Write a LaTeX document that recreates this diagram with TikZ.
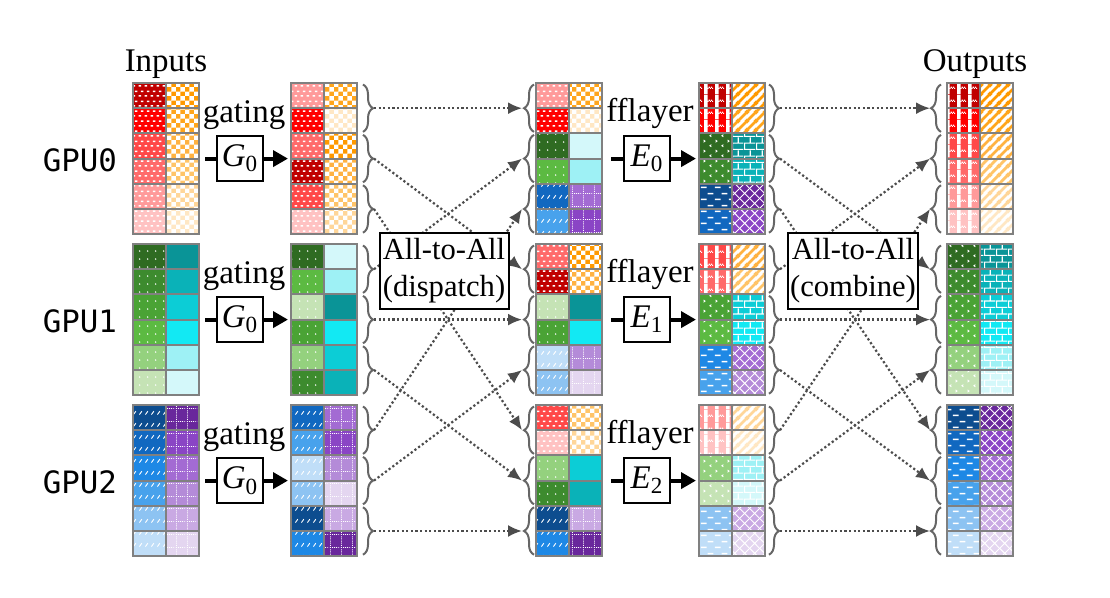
\documentclass[tikz,border=0pt]{standalone}
\usepackage{fontspec}
\setmainfont{Liberation Serif}
\setmonofont{DejaVu Sans Mono}
\usetikzlibrary{patterns,arrows.meta,decorations.pathreplacing}

% colour levels, darkest = 0
\definecolor{rd0}{HTML}{C00000}\definecolor{rd1}{HTML}{FF0000}\definecolor{rd2}{HTML}{FF4848}
\definecolor{rd3}{HTML}{FF6A6A}\definecolor{rd4}{HTML}{FF9A9A}\definecolor{rd5}{HTML}{FFC2C2}
\definecolor{or0}{HTML}{FF9900}\definecolor{or1}{HTML}{FFA51C}\definecolor{or2}{HTML}{FFB241}
\definecolor{or3}{HTML}{FFC468}\definecolor{or4}{HTML}{FFD699}\definecolor{or5}{HTML}{FFE7C4}
\definecolor{gr0}{HTML}{2F6B22}\definecolor{gr1}{HTML}{3D8B2E}\definecolor{gr2}{HTML}{4AA335}
\definecolor{gr3}{HTML}{5CBA42}\definecolor{gr4}{HTML}{94D17E}\definecolor{gr5}{HTML}{C5E3B5}
\definecolor{cy0}{HTML}{0A9497}\definecolor{cy1}{HTML}{0AB2B8}\definecolor{cy2}{HTML}{0CCDD6}
\definecolor{cy3}{HTML}{12E9F3}\definecolor{cy4}{HTML}{9EF1F5}\definecolor{cy5}{HTML}{D4F8FA}
\definecolor{bl0}{HTML}{0D4D8F}\definecolor{bl1}{HTML}{1168C0}\definecolor{bl2}{HTML}{1E88E5}
\definecolor{bl3}{HTML}{48A2EC}\definecolor{bl4}{HTML}{8DC3F2}\definecolor{bl5}{HTML}{C0DEF8}
\definecolor{pu0}{HTML}{69279C}\definecolor{pu1}{HTML}{8A45C5}\definecolor{pu2}{HTML}{A36BD3}
\definecolor{pu3}{HTML}{B48BD8}\definecolor{pu4}{HTML}{C9A9E3}\definecolor{pu5}{HTML}{E4D6F0}

% token textures
\pgfdeclarepatternformonly{rdash}{\pgfqpoint{0pt}{0pt}}{\pgfqpoint{3pt}{5pt}}{\pgfqpoint{3pt}{5pt}}{%
  \pgfpathrectangle{\pgfqpoint{0.3pt}{0.7pt}}{\pgfqpoint{1.5pt}{0.8pt}}%
  \pgfpathrectangle{\pgfqpoint{1.7pt}{3.2pt}}{\pgfqpoint{1.3pt}{0.8pt}}%
  \pgfusepath{fill}}
\pgfdeclarepatternformonly{chk}{\pgfqpoint{0pt}{0pt}}{\pgfqpoint{4.4pt}{4.4pt}}{\pgfqpoint{4.4pt}{4.4pt}}{%
  \pgfpathrectangle{\pgfqpoint{0pt}{0pt}}{\pgfqpoint{2.2pt}{2.2pt}}%
  \pgfpathrectangle{\pgfqpoint{2.2pt}{2.2pt}}{\pgfqpoint{2.2pt}{2.2pt}}%
  \pgfusepath{fill}}
\pgfdeclarepatternformonly{sdots}{\pgfqpoint{0pt}{0pt}}{\pgfqpoint{4pt}{4.2pt}}{\pgfqpoint{4pt}{4.2pt}}{%
  \pgfpathcircle{\pgfqpoint{2pt}{2.1pt}}{0.45pt}\pgfusepath{fill}}
\pgfdeclarepatternformonly{slash}{\pgfqpoint{0pt}{0pt}}{\pgfqpoint{3pt}{6pt}}{\pgfqpoint{3pt}{6pt}}{%
  \pgfsetlinewidth{0.5pt}%
  \pgfpathmoveto{\pgfqpoint{0.8pt}{1.8pt}}\pgfpathlineto{\pgfqpoint{2.2pt}{3.6pt}}%
  \pgfusepath{stroke}}
\pgfdeclarepatternformonly{dgrid}{\pgfqpoint{0pt}{0pt}}{\pgfqpoint{5.5pt}{6.3pt}}{\pgfqpoint{5.5pt}{6.3pt}}{%
  \pgfsetlinewidth{0.5pt}\pgfsetdash{{0.5pt}{0.6pt}}{0pt}%
  \pgfpathmoveto{\pgfqpoint{0.25pt}{0pt}}\pgfpathlineto{\pgfqpoint{0.25pt}{6.3pt}}%
  \pgfpathmoveto{\pgfqpoint{0pt}{0.25pt}}\pgfpathlineto{\pgfqpoint{5.5pt}{0.25pt}}%
  \pgfusepath{stroke}}
\pgfdeclarepatternformonly{ging}{\pgfqpoint{0pt}{0pt}}{\pgfqpoint{5.5pt}{6.3pt}}{\pgfqpoint{5.5pt}{6.3pt}}{%
  \pgfpathrectangle{\pgfqpoint{0pt}{0pt}}{\pgfqpoint{1.9pt}{6.3pt}}%
  \pgfpathrectangle{\pgfqpoint{1.9pt}{2.6pt}}{\pgfqpoint{0.6pt}{0.6pt}}%
  \pgfpathrectangle{\pgfqpoint{3.1pt}{2.6pt}}{\pgfqpoint{0.6pt}{0.6pt}}%
  \pgfpathrectangle{\pgfqpoint{4.3pt}{2.6pt}}{\pgfqpoint{0.6pt}{0.6pt}}%
  \pgfpathrectangle{\pgfqpoint{2.5pt}{3.2pt}}{\pgfqpoint{0.6pt}{0.6pt}}%
  \pgfpathrectangle{\pgfqpoint{3.7pt}{3.2pt}}{\pgfqpoint{0.6pt}{0.6pt}}%
  \pgfusepath{fill}}
\pgfdeclarepatternformonly{stripe}{\pgfqpoint{0pt}{0pt}}{\pgfqpoint{4.5pt}{4.5pt}}{\pgfqpoint{4.5pt}{4.5pt}}{%
  \pgfsetlinewidth{1.5pt}%
  \pgfpathmoveto{\pgfqpoint{-1pt}{-1pt}}\pgfpathlineto{\pgfqpoint{5.5pt}{5.5pt}}%
  \pgfpathmoveto{\pgfqpoint{-1pt}{3.5pt}}\pgfpathlineto{\pgfqpoint{1pt}{5.5pt}}%
  \pgfpathmoveto{\pgfqpoint{3.5pt}{-1pt}}\pgfpathlineto{\pgfqpoint{5.5pt}{1pt}}%
  \pgfusepath{stroke}}
\pgfdeclarepatternformonly{chev}{\pgfqpoint{0pt}{0pt}}{\pgfqpoint{6pt}{5pt}}{\pgfqpoint{6pt}{5pt}}{%
  \pgfsetlinewidth{0.45pt}%
  \pgfpathmoveto{\pgfqpoint{1.8pt}{0.6pt}}\pgfpathlineto{\pgfqpoint{1pt}{1.2pt}}\pgfpathlineto{\pgfqpoint{1.8pt}{1.8pt}}%
  \pgfpathmoveto{\pgfqpoint{4pt}{3.1pt}}\pgfpathlineto{\pgfqpoint{4.8pt}{3.7pt}}\pgfpathlineto{\pgfqpoint{4pt}{4.3pt}}%
  \pgfusepath{stroke}}
\pgfdeclarepatternformonly{brick}{\pgfqpoint{0pt}{0pt}}{\pgfqpoint{6pt}{6.6pt}}{\pgfqpoint{6pt}{6.6pt}}{%
  \pgfsetlinewidth{0.6pt}%
  \pgfpathmoveto{\pgfqpoint{0pt}{0.3pt}}\pgfpathlineto{\pgfqpoint{6pt}{0.3pt}}%
  \pgfpathmoveto{\pgfqpoint{0pt}{3.6pt}}\pgfpathlineto{\pgfqpoint{6pt}{3.6pt}}%
  \pgfpathmoveto{\pgfqpoint{0.3pt}{0.3pt}}\pgfpathlineto{\pgfqpoint{0.3pt}{3.6pt}}%
  \pgfpathmoveto{\pgfqpoint{3.3pt}{3.6pt}}\pgfpathlineto{\pgfqpoint{3.3pt}{6.6pt}}%
  \pgfusepath{stroke}}
\pgfdeclarepatternformonly{hdash}{\pgfqpoint{0pt}{0pt}}{\pgfqpoint{7pt}{6pt}}{\pgfqpoint{7pt}{6pt}}{%
  \pgfpathrectangle{\pgfqpoint{0.5pt}{1pt}}{\pgfqpoint{3pt}{0.8pt}}%
  \pgfpathrectangle{\pgfqpoint{4pt}{4pt}}{\pgfqpoint{3pt}{0.8pt}}%
  \pgfusepath{fill}}
\pgfdeclarepatternformonly{diam}{\pgfqpoint{0pt}{0pt}}{\pgfqpoint{5pt}{5pt}}{\pgfqpoint{5pt}{5pt}}{%
  \pgfsetlinewidth{0.5pt}%
  \pgfpathmoveto{\pgfqpoint{-0.5pt}{-0.5pt}}\pgfpathlineto{\pgfqpoint{5.5pt}{5.5pt}}%
  \pgfpathmoveto{\pgfqpoint{-0.5pt}{5.5pt}}\pgfpathlineto{\pgfqpoint{5.5pt}{-0.5pt}}%
  \pgfusepath{stroke}}

\tikzset{
  rA/.style={fill=rd#1,postaction={pattern=rdash,pattern color=white}},
  oA/.style={fill=or#1,postaction={pattern=chk,pattern color=white}},
  gA/.style={fill=gr#1,postaction={pattern=sdots,pattern color=white}},
  cA/.style={fill=cy#1},
  bA/.style={fill=bl#1,postaction={pattern=slash,pattern color=white}},
  pA/.style={fill=pu#1,postaction={pattern=dgrid,pattern color=white}},
  rB/.style={fill=rd#1,postaction={pattern=ging,pattern color=white}},
  oB/.style={fill=white,postaction={pattern=stripe,pattern color=or#1}},
  gB/.style={fill=gr#1,postaction={pattern=chev,pattern color=white}},
  cB/.style={fill=cy#1,postaction={pattern=brick,pattern color=white}},
  bB/.style={fill=bl#1,postaction={pattern=hdash,pattern color=white}},
  pB/.style={fill=pu#1,postaction={pattern=diam,pattern color=white}},
  cellgrid/.style={draw=black!50,line width=1pt},
  brc/.style={decorate,decoration={brace,amplitude=5pt},draw=black!60,line width=1pt},
  a2a/.style={draw=black!70,line width=1.1pt,dash pattern=on 1.1pt off 1.2pt,
    -{Latex[length=7pt,width=6pt]}},
  fwd/.style={line width=2pt,-{Triangle[length=7.5pt,width=8pt]}},
  opbox/.style={draw,fill=white,line width=0.8pt,minimum width=23pt,minimum height=22.5pt,inner sep=0pt},
  a2abox/.style={draw,fill=white,line width=1pt,align=center,minimum width=64.5pt,minimum height=38pt,
    inner sep=1pt,font=\fontsize{15.3}{18.5}\selectfont},
}

% one column of six tokens: x, top, list of left/right
\newcommand{\tokcol}[3]{%
  \foreach \lt/\rt [count=\i from 0] in {#3}{%
    \edef\tmp{\noexpand\fill[\lt] (#1,#2+\i*25.2) rectangle ++(33,25.2);
      \noexpand\fill[\rt] (#1+33,#2+\i*25.2) rectangle ++(33,25.2);}\tmp}
  \foreach \i in {1,...,5}{\draw[cellgrid] (#1,#2+\i*25.2) -- ++(66,0);}
  \draw[cellgrid] (#1+33,#2) -- ++(0,151.2);
  \draw[cellgrid] (#1,#2) rectangle ++(66,151.2);}

\begin{document}
\begin{tikzpicture}[x=0.5pt,y=-0.5pt,font=\fontsize{16.5}{19}\selectfont]
\useasboundingbox (0,0) rectangle (1110,598);

% inputs
\tokcol{133}{83}{rA=0/oA=0,rA=1/oA=1,rA=2/oA=2,rA=3/oA=3,rA=4/oA=4,rA=5/oA=5}
\tokcol{133}{244}{gA=0/cA=0,gA=1/cA=1,gA=2/cA=2,gA=3/cA=3,gA=4/cA=4,gA=5/cA=5}
\tokcol{133}{405}{bA=0/pA=0,bA=1/pA=1,bA=2/pA=2,bA=3/pA=3,bA=4/pA=4,bA=5/pA=5}
% after gating
\tokcol{291}{83}{rA=4/oA=1,rA=1/oA=5,rA=3/oA=0,rA=0/oA=2,rA=2/oA=3,rA=5/oA=4}
\tokcol{291}{244}{gA=0/cA=5,gA=3/cA=4,gA=5/cA=0,gA=2/cA=3,gA=4/cA=2,gA=1/cA=1}
\tokcol{291}{405}{bA=1/pA=2,bA=3/pA=1,bA=5/pA=3,bA=4/pA=5,bA=0/pA=4,bA=2/pA=0}
% after dispatch
\tokcol{536}{83}{rA=4/oA=1,rA=1/oA=5,gA=0/cA=5,gA=3/cA=4,bA=1/pA=2,bA=3/pA=1}
\tokcol{536}{244}{rA=3/oA=0,rA=0/oA=2,gA=5/cA=0,gA=2/cA=3,bA=5/pA=3,bA=4/pA=5}
\tokcol{536}{405}{rA=2/oA=3,rA=5/oA=4,gA=4/cA=2,gA=1/cA=1,bA=0/pA=4,bA=2/pA=0}
% after fflayer
\tokcol{699}{83}{rB=0/oB=0,rB=1/oB=1,gB=0/cB=0,gB=1/cB=1,bB=0/pB=0,bB=1/pB=1}
\tokcol{699}{244}{rB=2/oB=2,rB=3/oB=3,gB=2/cB=2,gB=3/cB=3,bB=2/pB=2,bB=3/pB=3}
\tokcol{699}{405}{rB=4/oB=4,rB=5/oB=5,gB=4/cB=4,gB=5/cB=5,bB=4/pB=4,bB=5/pB=5}
% outputs
\tokcol{947}{83}{rB=0/oB=0,rB=1/oB=1,rB=2/oB=2,rB=3/oB=3,rB=4/oB=4,rB=5/oB=5}
\tokcol{947}{244}{gB=0/cB=0,gB=1/cB=1,gB=2/cB=2,gB=3/cB=3,gB=4/cB=4,gB=5/cB=5}
\tokcol{947}{405}{bB=0/pB=0,bB=1/pB=1,bB=2/pB=2,bB=3/pB=3,bB=4/pB=4,bB=5/pB=5}

% braces round each pair of tokens
\foreach \k in {0,1,2}{
  \pgfmathsetmacro{\tp}{83+161*\k}
  \foreach \p in {0,1,2}{
    \pgfmathsetmacro{\ya}{\tp+50.4*\p+1.5}
    \pgfmathsetmacro{\yb}{\tp+50.4*\p+48.9}
    \pgfmathsetmacro{\ym}{\tp+50.4*\p+25.2}
    \draw[brc] (363,\ya) -- (363,\yb);
    \draw[brc] (534,\yb) -- (534,\ya);
    \draw[brc] (769,\ya) -- (769,\yb);
    \draw[brc] (941,\yb) -- (941,\ya);
    \coordinate (gs\k\p) at (374,\ym);
    \coordinate (dt\k\p) at (522,\ym);
    \coordinate (fs\k\p) at (780,\ym);
    \coordinate (ot\k\p) at (930,\ym);
  }
}

% all-to-all exchanges
\foreach \k in {0,1,2}{
  \foreach \p in {0,1,2}{
    \draw[a2a] (gs\k\p) -- (dt\p\k);
    \draw[a2a] (fs\k\p) -- (ot\p\k);
  }
}
\node[a2abox] (disp) at (444,271) {All-to-All\\(dispatch)};
\node[a2abox] (comb) at (853,271) {All-to-All\\(combine)};

% gating and experts
\foreach \k in {0,1,2}{
  \pgfmathsetmacro{\yc}{158.6+161*\k}
  \node[anchor=east,font=\ttfamily\fontsize{15.4}{18}\selectfont] (gpu\k) at (124,\yc+2) {GPU\k};
  \coordinate (gi\k) at (205,\yc);
  \coordinate (go\k) at (288,\yc);
  \node[opbox] (gate\k) at (240,\yc) {\textit{G}\textsubscript{0}};
  \draw[line width=2pt] (gi\k) -- (gate\k);
  \draw[fwd] (gate\k) -- (go\k);
  \node[anchor=base] (glab\k) at (244,\yc-35.6) {gating};
  \coordinate (fi\k) at (611,\yc);
  \coordinate (fo\k) at (696,\yc);
  \node[opbox] (exp\k) at (647,\yc) {\textit{E}\textsubscript{\k}};
  \draw[line width=2pt] (fi\k) -- (exp\k);
  \draw[fwd] (exp\k) -- (fo\k);
  \node[anchor=base] (flab\k) at (650,\yc-36.6) {fflayer};
}

\node[anchor=base] (inlab) at (166,72) {Inputs};
\node[anchor=base] (outlab) at (975,72) {Outputs};
\end{tikzpicture}
\end{document}
